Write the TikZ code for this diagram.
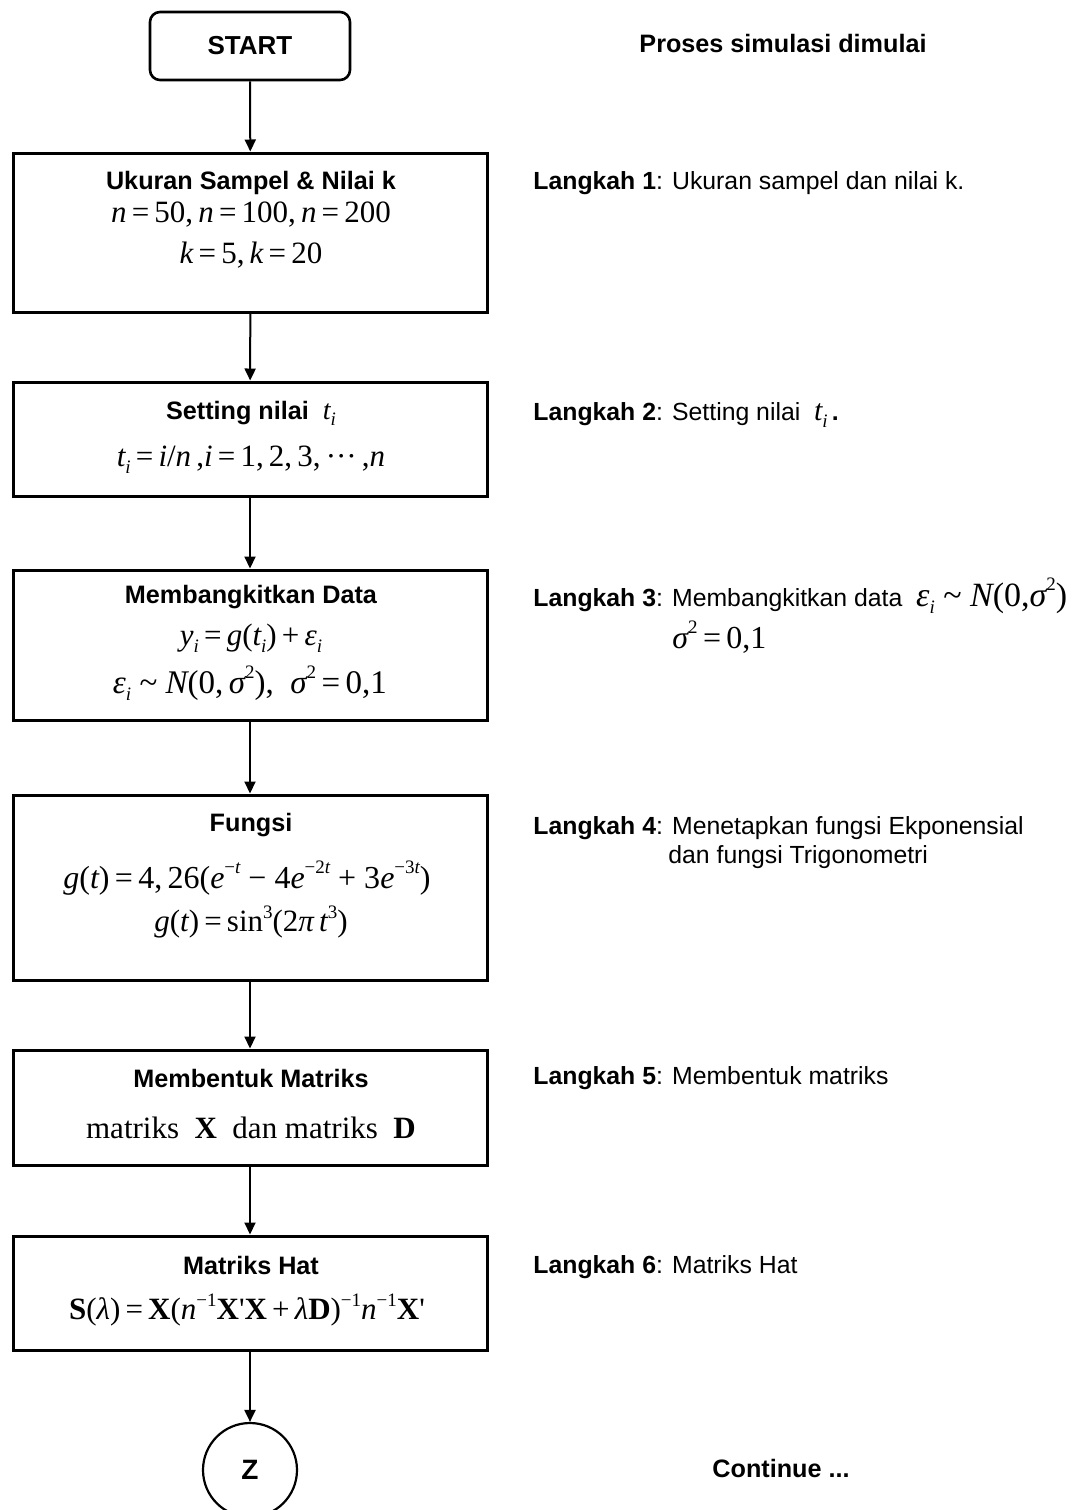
\documentclass[tikz,border=0pt]{standalone}
\usepackage{fontspec}
\setmainfont{Liberation Sans}
\newfontfamily\tms{Liberation Serif}
\usetikzlibrary{arrows.meta}
\newcommand\V[1]{{\itshape #1}}
\newcommand\B[1]{{\bfseries #1}}
\newcommand\sups[1]{\raisebox{0.45em}{\fontsize{9.5}{10}\selectfont #1}}
\newcommand\subs[1]{\raisebox{-0.22em}{\fontsize{9.5}{10}\selectfont #1}}
\newcommand\eqs{\,=\,}
\newcommand\pls{\,+\,}
\begin{document}
\begin{tikzpicture}[x=0.5pt,y=-0.5pt,
  box/.style={draw, line width=1.5pt, rectangle, minimum width=237pt, inner sep=0pt},
  startbox/.style={draw, line width=1.3pt, rectangle, rounded corners=5pt, minimum width=100pt, minimum height=34pt, inner sep=0pt, font=\fontsize{13}{15}\selectfont\bfseries},
  head/.style={font=\fontsize{12.6}{14}\selectfont\bfseries, inner sep=0pt},
  mth/.style={font=\fontsize{15.5}{17}\selectfont\tms, inner sep=0pt},
  side/.style={anchor=west, font=\fontsize{12.4}{14}\selectfont, inner sep=0pt},
  flow/.style={line width=1pt, -{Triangle[length=6pt,width=5.5pt]}}]
\useasboundingbox (0,0) rectangle (1086,1510);
% boxes
\node[startbox] (start) at (250,46) {START};
\node[box, minimum height=79.5pt] (b1) at (250.5,232.5) {};
\node[box, minimum height=57pt] (b2) at (250,439) {};
\node[box, minimum height=75pt] (b3) at (250,645) {};
\node[box, minimum height=92.5pt] (b4) at (250,887.5) {};
\node[box, minimum height=57.5pt] (b5) at (250,1107.5) {};
\node[box, minimum height=57pt] (b6) at (250,1293) {};
\node[draw, circle, line width=1.1pt, minimum size=47pt, inner sep=0pt, font=\fontsize{14}{16}\selectfont\bfseries] (z) at (250,1470) {Z};
% arrows
\draw[flow] (start) -- (b1);
\draw[flow] (b1) -- (b2);
\draw[flow] (b2) -- (b3);
\draw[flow] (b3) -- (b4);
\draw[flow] (b4) -- (b5);
\draw[flow] (b5) -- (b6);
\draw[flow] (b6) -- (z);
% box texts
\node[head] (h1) at (251,183) {Ukuran Sampel \& Nilai k};
\node[mth] (m1a) at (251,215) {\V{n}\eqs 50,\,\V{n}\eqs 100,\,\V{n}\eqs 200};
\node[mth] (m1b) at (251,255) {\V{k}\eqs 5,\,\V{k}\eqs 20};
\node[head] (h2) at (251,413) {Setting nilai \ {\tms\mdseries\itshape\fontsize{14}{16}\selectfont t\subs{i}}};
\node[mth] (m2) at (251,460) {\V{t}\subs{\V{i}}\eqs\V{i}/\V{n}\,,\V{i}\eqs 1,\,2,\,3,\,···\,,\V{n}};
\node[head] (h3) at (251,597) {Membangkitkan Data};
\node[mth] (m3a) at (251,638) {\V{y}\subs{\V{i}}\eqs\V{g}(\V{t}\subs{\V{i}})\pls\V{ε}\subs{\V{i}}};
\node[mth, font=\fontsize{16.5}{18}\selectfont\tms] (m3b) at (250,683) {\V{ε}\subs{\V{i}}\ \textasciitilde\ \V{N}(0,\,\V{σ}\sups{2}),\ \ \V{σ}\sups{2}\eqs 0,1};
\node[head] (h4) at (251,825) {Fungsi};
\node[mth, font=\fontsize{16}{18}\selectfont\tms] (m4a) at (247,878) {\V{g}(\V{t})\eqs 4,\,26(\V{e}\sups{−\V{t}}\ −\ 4\V{e}\sups{−2\V{t}}\ +\ 3\V{e}\sups{−3\V{t}})};
\node[mth] (m4b) at (251,922) {\V{g}(\V{t})\eqs sin\sups{3}(2\V{π}\,\V{t}\sups{3})};
\node[head] (h5) at (251,1078) {Membentuk Matriks};
\node[mth] (m5) at (251,1128) {matriks \ \B{X} \ dan matriks \ \B{D}};
\node[head] (h6) at (251,1265) {Matriks Hat};
\node[mth] (m6) at (247,1310) {\B{S}(\V{λ})\eqs\B{X}(\V{n}\sups{−1}\B{X}'\B{X}\pls\V{λ}\B{D})\sups{−1}\V{n}\sups{−1}\B{X}'};
% side texts
\node[head] (s0) at (783,43) {Proses simulasi dimulai};
\node[side] (s1) at (533,183) {\textbf{Langkah 1}: Ukuran sampel dan nilai k.};
\node[side] (s2) at (533,415) {\textbf{Langkah 2}: Setting nilai \ {\tms\itshape\fontsize{15}{17}\selectfont t\subs{i}}\,\textbf{.}};
\node[side] (s3) at (533,596) {\textbf{Langkah 3}: Membangkitkan data \ {\tms\fontsize{17}{19}\selectfont\V{ε}\subs{\V{i}}\ \textasciitilde\ \V{N}(0,\V{σ}\sups{2})}};
\node[side, font=\fontsize{16}{18}\selectfont\tms] (s3b) at (672,637) {\V{σ}\sups{2}\eqs 0,1};
\node[side] (s4) at (533,828) {\textbf{Langkah 4}: Menetapkan fungsi Ekponensial};
\node[side] (s4b) at (668,857) {dan fungsi Trigonometri};
\node[side] (s5) at (533,1078) {\textbf{Langkah 5}: Membentuk matriks};
\node[side] (s6) at (533,1267) {\textbf{Langkah 6}: Matriks Hat};
\node[side, font=\fontsize{12.6}{14}\selectfont\bfseries] (s7) at (712,1468) {Continue ...};
\end{tikzpicture}
\end{document}
